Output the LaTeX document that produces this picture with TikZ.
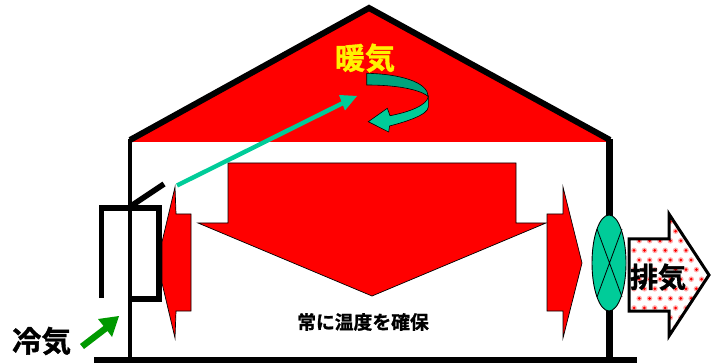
\documentclass[tikz,border=0pt]{standalone}
\usepackage{fontspec}
\setmainfont{Noto Sans CJK JP Bold}[FakeBold=1.2]
\usetikzlibrary{calc}
\definecolor{teal1}{HTML}{00CC99}
\definecolor{teal2}{HTML}{00A37C}
\definecolor{green1}{HTML}{009900}
\definecolor{dotpink}{HTML}{FFB0B0}
\tikzset{
  wall/.style={draw=black,line width=#1,line cap=butt,line join=miter},
  redshape/.style={fill=red,draw=black,line width=0.7pt,line join=miter},
  label/.style={inner sep=0pt,font=\fontsize{#1}{#1}\selectfont},
}
\begin{document}
\begin{tikzpicture}[x=1pt,y=-1pt]
\useasboundingbox (0,0) rectangle (714,363);
% roof
\fill[red] (130,142) -- (369,8) -- (610,142) -- cycle;
\draw[wall=6pt] (130,140) -- (369,8) -- (610,140);
% walls and floor
\draw[wall=4.6pt] (130,139) -- (130,361);
\draw[wall=6.2pt] (609.5,139) -- (609.5,359);
\draw[wall=5.2pt] (94,360) -- (637,360);
% central arrow
\draw[redshape] (228,163) -- (516,163) -- (516,223) -- (546,223) -- (372,296) -- (198,223) -- (228,223) -- cycle;
% left arrow
\draw[redshape] (175,187) -- (176,214) -- (191,214) -- (191,311) -- (176,311) -- (175,338) -- (162,283) -- (162,242) -- cycle;
% right arrow
\draw[redshape] (547,214) -- (563,214) -- (563,187) -- (582,263) -- (563,338) -- (563,311) -- (547,311) -- cycle;
% duct
\draw[wall=5.6pt] (101.5,298) -- (101.5,208) -- (159,208) -- (159,299) -- (132,299);
\draw[wall=5.6pt] (131,206) -- (164,184);
% fan
\draw[fill=teal1,draw=black,line width=0.9pt] (609,263) ellipse [x radius=17, y radius=48];
\draw[black,line width=0.8pt] (597,229) -- (622,297) (622,229) -- (597,297);
% exhaust arrow
\begin{scope}
\clip (629,239) -- (669,239) -- (669,214) -- (709,275) -- (669,336) -- (669,311) -- (629,311) -- cycle;
\foreach \r in {0,...,14} {
  \foreach \c in {0,...,9} {
    \pgfmathsetmacro{\px}{634+\c*10.4+mod(\r,2)*5.2}
    \pgfmathsetmacro{\py}{212+\r*9.6}
    \fill[dotpink] (\px,\py) circle [radius=2.8pt];
    \fill[red] (\px,\py) circle [radius=1.5pt];
  }
}
\end{scope}
\draw[black,line width=3pt,line join=miter] (629,239) -- (669,239) -- (669,214) -- (709,275) -- (669,336) -- (669,311) -- (629,311) -- cycle;
% swirl
\draw[fill=teal1,draw=black,line width=0.6pt,line join=miter]
  (428.3,96.7) -- (428.3,107) .. controls (428,115) and (405,122) .. (389.5,126) -- (388.7,132) -- (368.3,121.7) -- (387.3,108.3) -- (390,115.7) .. controls (410,112) and (427,105) .. (428.3,96.7) -- cycle;
\draw[fill=teal2,draw=black,line width=0.6pt,line join=miter]
  (366.7,73.3) .. controls (400,74) and (428,82) .. (428.3,96.7) .. controls (424,92) and (405,85) .. (366.7,85) -- cycle;
% teal arrow
\draw[teal1,line width=4.4pt] (177,185.5) -- (345,102);
\fill[teal1] (357,96) -- (339,95) -- (345,110.5) -- cycle;
% green arrow
\fill[green1] (119,316) -- (98,319) -- (103.5,326) -- (80,344) -- (84,349) -- (107.5,331) -- (112,337) -- cycle;
% labels
\node[label=30,text=yellow] (warm) at (365,58) {暖気};
\node[label=29.5,text=black] (cold) at (41.5,341) {冷気};
\node[label=28,text=black] (exhaust) at (658,277) {排気};
\node[label=18.8,text=black] (keep) at (363,322) {常に温度を確保};
\end{tikzpicture}
\end{document}
